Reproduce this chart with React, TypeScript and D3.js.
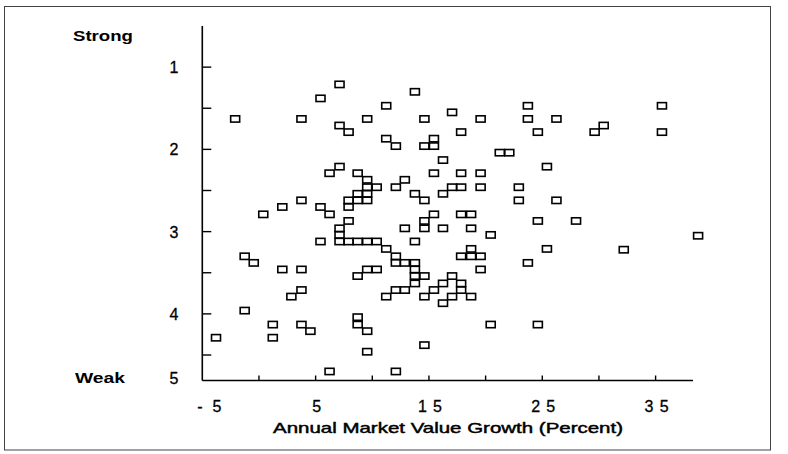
import React from "react";
import * as d3 from "d3";

// Annual market value growth (%) for each company
const growth = [
  7.11, 13.76, 5.43, 11.23, 23.73, 35.56, 17.04, -2.1, 3.75, 9.55,
  14.6, 19.56, 23.73, 26.25, 7.11, 30.42, 7.91, 17.84, 24.61, 29.62,
  35.56, 11.23, 15.44, 12.08, 14.6, 15.44, 21.25, 22.09, 16.24, 7.11,
  25.41, 6.23, 8.71, 15.44, 17.84, 19.56, 9.55, 12.87, 9.55, 10.39,
  12.08, 17.04, 17.84, 19.56, 22.93, 8.71, 9.55, 13.76, 16.24, 3.75,
  7.91, 8.71, 9.55, 14.6, 22.93, 26.25, 2.06, 5.43, 7.91, 0.38,
  6.23, 15.44, 17.84, 18.72, 7.91, 14.6, 24.61, 27.98, 7.11, 12.87,
  14.6, 16.24, 18.72, 7.11, 20.45, 38.75, 5.43, 7.11, 7.91, 8.71,
  9.55, 10.39, 13.76, 11.23, 18.72, 25.41, 32.19, -1.26, 12.08, 17.84,
  18.72, 19.56, -0.46, 12.08, 12.87, 13.76, 23.73, 2.06, 3.75, 9.55,
  10.39, 13.76, 19.56, 8.71, 13.76, 14.6, 17.04, 13.76, 16.24, 17.84,
  3.75, 12.08, 12.87, 15.44, 17.84, 2.86, 11.23, 14.6, 17.04, 18.72,
  16.24, -1.26, 8.71, 1.22, 3.75, 8.71, 20.45, 24.61, 4.54, 9.55,
  -3.79, 1.22, 14.6, 9.55, 6.23, 12.08,
];

// Rated strength (1 = strong, 5 = weak)
const strength = [
  1.21, 1.3, 1.38, 1.47, 1.47, 1.47, 1.55, 1.63, 1.63, 1.63,
  1.63, 1.63, 1.63, 1.63, 1.71, 1.71, 1.79, 1.79, 1.79, 1.79,
  1.79, 1.87, 1.87, 1.96, 1.96, 1.96, 2.04, 2.04, 2.13, 2.21,
  2.21, 2.29, 2.29, 2.29, 2.29, 2.29, 2.37, 2.37, 2.46, 2.46,
  2.46, 2.46, 2.46, 2.46, 2.46, 2.54, 2.54, 2.54, 2.54, 2.62,
  2.62, 2.62, 2.62, 2.62, 2.62, 2.62, 2.7, 2.7, 2.7, 2.79,
  2.79, 2.79, 2.79, 2.79, 2.87, 2.87, 2.87, 2.87, 2.96, 2.96,
  2.96, 2.96, 2.96, 3.04, 3.04, 3.05, 3.12, 3.12, 3.12, 3.12,
  3.12, 3.12, 3.12, 3.21, 3.21, 3.21, 3.22, 3.3, 3.3, 3.3,
  3.3, 3.3, 3.38, 3.38, 3.38, 3.38, 3.38, 3.46, 3.46, 3.46,
  3.46, 3.46, 3.46, 3.54, 3.54, 3.54, 3.54, 3.63, 3.63, 3.63,
  3.71, 3.71, 3.71, 3.71, 3.71, 3.79, 3.79, 3.79, 3.79, 3.79,
  3.87, 3.96, 4.04, 4.13, 4.13, 4.13, 4.13, 4.13, 4.21, 4.21,
  4.29, 4.29, 4.38, 4.46, 4.7, 4.7,
];

const xTickValues = [0, 5, 10, 15, 20, 25, 30, 35];
const xTickLabels = [-5, 5, 15, 25, 35];
const yTickValues = [1, 1.5, 2, 2.5, 3, 3.5, 4, 4.5];
const yTickLabels = [1, 2, 3, 4, 5];

const FONT = "'Liberation Sans', Arial, sans-serif";

export default function App() {
  const x = d3.scaleLinear().domain([-5, 38.3]).range([202.3, 693]);
  const y = d3.scaleLinear().domain([0.5, 4.81]).range([26, 380.5]);
  const [x0] = x.range();
  const [yTop, yBot] = y.range();
  const points = growth.map((g, i) => ({ g, s: strength[i] }));
  const boxW = 9;
  const boxH = 6.3;

  return (
    <svg
      width={788}
      height={454}
      style={{ position: "absolute", left: 0, top: 0, background: "#fff" }}
    >
      <rect x={4.5} y={6.5} width={766} height={443.5} fill="none" stroke="#444" strokeWidth={1} />

      {/* axes */}
      <line x1={x0} x2={x0} y1={yTop} y2={yBot} stroke="#000" strokeWidth={1.6} />
      <line x1={x0} x2={x.range()[1]} y1={yBot} y2={yBot} stroke="#000" strokeWidth={1.6} />

      {yTickValues.map((v) => (
        <line key={"yt" + v} x1={x0} x2={x0 + 9} y1={y(v)} y2={y(v)} stroke="#000" strokeWidth={1.4} />
      ))}
      {xTickValues.map((v) => (
        <line key={"xt" + v} x1={x(v)} x2={x(v)} y1={yBot} y2={yBot - 5} stroke="#000" strokeWidth={1.4} />
      ))}

      {yTickLabels.map((v) => (
        <text
          key={"yl" + v}
          x={174}
          y={Math.min(y(v), yBot - 3) + 6}
          textAnchor="middle"
          fontFamily={FONT}
          fontSize={16}
          stroke="#000"
          strokeWidth={0.3}
        >
          {v}
        </text>
      ))}
      {xTickLabels.map((v) => {
        const s = v < 0 ? "- " + Math.abs(v) : String(v);
        const twoChar = String(Math.abs(v)).length > 1 || v < 0;
        return (
          <text
            key={"xl" + v}
            x={v < 0 ? x(v) - 5 : x(v) + 1}
            y={412}
            textAnchor={v < 0 ? "start" : "middle"}
            fontFamily={FONT}
            fontSize={16}
            stroke="#000"
            strokeWidth={0.3}
            {...(twoChar ? { textLength: 24, lengthAdjust: "spacing" } : {})}
          >
            {s}
          </text>
        );
      })}

      <text x={73} y={40.5} fontFamily={FONT} fontSize={14} fontWeight="bold" textLength={60} lengthAdjust="spacingAndGlyphs">
        Strong
      </text>
      <text x={75} y={383} fontFamily={FONT} fontSize={14} fontWeight="bold" textLength={50} lengthAdjust="spacingAndGlyphs">
        Weak
      </text>
      <text
        x={273}
        y={432.5}
        fontFamily={FONT}
        fontSize={14.5}
        stroke="#000"
        strokeWidth={0.45}
        textLength={350}
        lengthAdjust="spacingAndGlyphs"
      >
        Annual Market Value Growth (Percent)
      </text>

      {points.map((p, i) => (
        <rect
          key={i}
          x={x(p.g) - boxW / 2}
          y={y(p.s) - boxH / 2}
          width={boxW}
          height={boxH}
          fill="none"
          stroke="#000"
          strokeWidth={1.6}
        />
      ))}
    </svg>
  );
}
